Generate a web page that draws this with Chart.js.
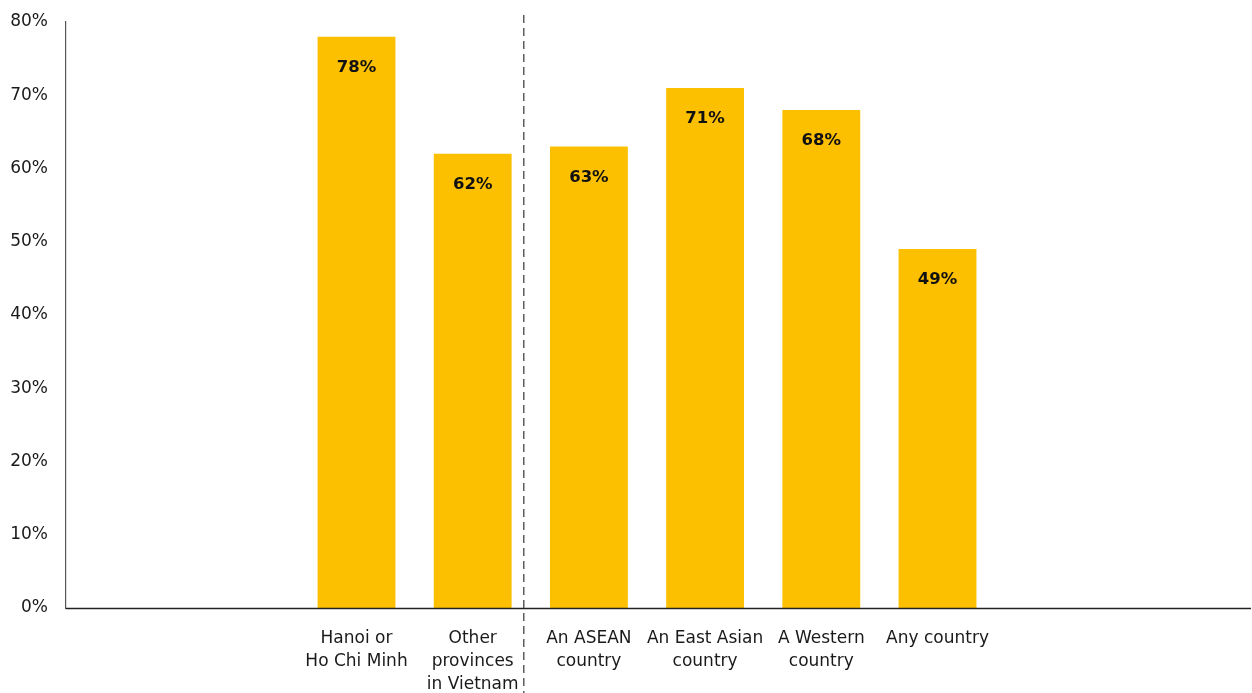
<!DOCTYPE html>
<html>
<head>
<meta charset="utf-8">
<script src="https://cdn.jsdelivr.net/npm/chart.js@4"></script>
<style>
  html, body { margin: 0; padding: 0; background: #fff; }
  #wrap { width: 1252px; height: 693px; }
</style>
</head>
<body>
<div id="wrap"><canvas id="chart" width="1252" height="693"></canvas></div>
<script>
// categories (blank slots keep the empty space either side of the bars)
const categories = [
  '', '',
  ['Hanoi or', 'Ho Chi Minh'],
  ['Other', 'provinces', 'in Vietnam'],
  ['An ASEAN', 'country'],
  ['An East Asian', 'country'],
  ['A Western', 'country'],
  'Any country',
  '', ''
];
const values = [null, null, 78, 62, 63, 71, 68, 49, null, null];
const yTicks = [0, 10, 20, 30, 40, 50, 60, 70, 80];
// divider sits between the domestic and foreign groups
const dividerAfter = 3;

const barColor = '#FDC000';
const textColor = '#1a1a1a';
const fontFamily = '"DejaVu Sans", sans-serif';

const valueLabels = {
  id: 'valueLabels',
  afterDatasetsDraw(chart) {
    const ctx = chart.ctx;
    const meta = chart.getDatasetMeta(0);
    ctx.save();
    ctx.font = 'bold 16.5px ' + fontFamily;
    ctx.fillStyle = '#111';
    ctx.textAlign = 'center';
    ctx.textBaseline = 'middle';
    meta.data.forEach((bar, i) => {
      if (values[i] == null) return;
      ctx.fillText(values[i] + '%', bar.x, bar.y + 31);
    });
    ctx.restore();
  }
};

const divider = {
  id: 'divider',
  afterDraw(chart) {
    const ctx = chart.ctx;
    const x = chart.scales.x;
    const area = chart.chartArea;
    const px = (x.getPixelForValue(dividerAfter) + x.getPixelForValue(dividerAfter + 1)) / 2 - 7;
    const by = Math.round(area.bottom) + 0.5;
    ctx.save();
    // baseline runs past the last category to the right edge
    ctx.strokeStyle = '#222';
    ctx.lineWidth = 1.5;
    ctx.beginPath();
    ctx.moveTo(area.left, by);
    ctx.lineTo(chart.width - 1, by);
    ctx.stroke();
    // dashed separator
    ctx.strokeStyle = '#444';
    ctx.lineWidth = 1.3;
    ctx.setLineDash([8, 5]);
    ctx.beginPath();
    ctx.moveTo(px, 15);
    ctx.lineTo(px, chart.height);
    ctx.stroke();
    ctx.restore();
  }
};

new Chart(document.getElementById('chart'), {
  type: 'bar',
  data: {
    labels: categories,
    datasets: [{
      data: values,
      backgroundColor: barColor,
      borderWidth: 0,
      categoryPercentage: 1,
      barPercentage: 0.67
    }]
  },
  options: {
    responsive: false,
    animation: false,
    layout: { padding: { top: 22, right: 24, left: 0, bottom: 0 } },
    plugins: { legend: { display: false }, tooltip: { enabled: false } },
    scales: {
      x: {
        grid: { display: false, drawTicks: false },
        border: { display: false },
        ticks: {
          color: textColor,
          font: { family: fontFamily, size: 17, lineHeight: 1.35 },
          padding: 19,
          maxRotation: 0,
          autoSkip: false
        },
        afterFit(scale) { scale.height = 85; }
      },
      y: {
        min: 0,
        max: 80,
        afterBuildTicks(scale) { scale.ticks = yTicks.map(v => ({ value: v })); },
        grid: { display: false, drawTicks: false },
        border: { color: '#555', width: 1.2 },
        ticks: {
          color: textColor,
          font: { family: fontFamily, size: 17 },
          padding: 18,
          callback: v => v + '%'
        },
        afterFit(scale) {
          scale.width = 66;
          scale.paddingTop = 0;
          scale.paddingBottom = 0;
        }
      }
    }
  },
  plugins: [valueLabels, divider]
});
</script>
</body>
</html>
